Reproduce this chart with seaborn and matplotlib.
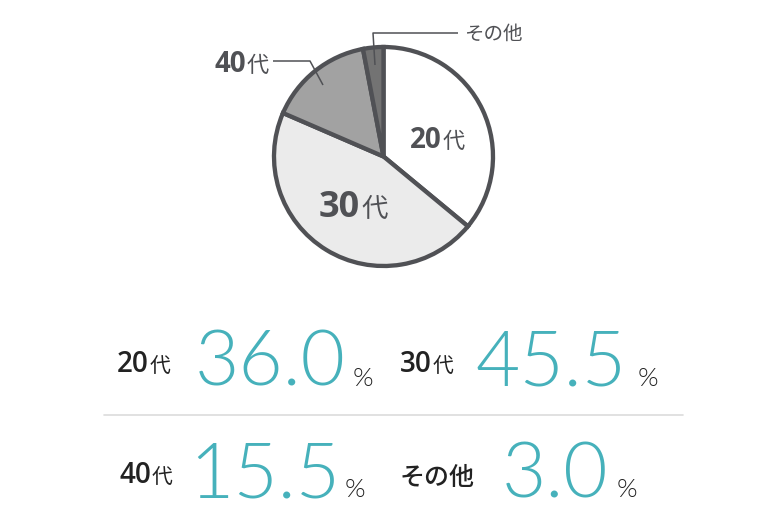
import matplotlib.pyplot as plt
import seaborn as sns

# Age distribution (percent)
ages = ["20代", "30代", "40代", "その他"]
shares = [36.0, 45.5, 15.5, 3.0]
wedge_colors = ["#ffffff", "#ebebeb", "#a2a2a2", "#737373"]

outline = "#505155"
teal = "#46b1bb"
dark = "#222222"

sns.set_theme(style="white")
plt.rcParams['font.family'] = ['Open Sans', 'Noto Sans CJK JP', 'DejaVu Sans']

W, H = 760, 532
fig = plt.figure(figsize=(W / 100, H / 100), dpi=100)

# pie, placed in pixel coordinates
cx, cy, r = 383.5, 156.5, 109.5
ax_pie = fig.add_axes([(cx - r) / W, (H - cy - r) / H, 2 * r / W, 2 * r / H])
wedges, _ = ax_pie.pie(shares, colors=wedge_colors, startangle=90, counterclock=False,
                       wedgeprops=dict(edgecolor=outline, linewidth=3.1, joinstyle='miter'))
for w in wedges:
    w.set_clip_on(False)
ax_pie.set_xlim(-1, 1)
ax_pie.set_ylim(-1, 1)
ax_pie.axis('off')

# overlay for text, in pixels (y down)
ax = fig.add_axes([0, 0, 1, 1])
ax.set_xlim(0, W)
ax.set_ylim(H, 0)
ax.axis('off')


def age_label(x, y, text, num_size, kanji_size, color, weight='bold'):
    """Draw '20代'-like label: digits end at x, kanji starts at x."""
    if text.endswith("代"):
        ax.text(x, y, text[:-1], ha='right', va='baseline', fontsize=num_size,
                color=color, fontweight=weight, family=['Open Sans', 'DejaVu Sans'])
        ax.text(x + 1, y, "代", ha='left', va='baseline', fontsize=kanji_size,
                color=color, family=['Noto Sans CJK JP'])
    else:
        ax.text(x, y, text, ha='left', va='baseline', fontsize=kanji_size,
                color=color, fontweight='medium', family=['Noto Sans CJK JP'])


# labels on the pie
age_label(442, 148, ages[0], 20, 16, outline)
age_label(360, 217, ages[1], 26, 19, outline)
age_label(246, 72, ages[2], 20, 16, outline)
ax.text(464, 40, ages[3], ha='left', va='baseline', fontsize=14, color=outline,
        family=['Noto Sans CJK JP'])
ax.plot([273, 310, 323], [61, 61, 85], color=outline, lw=1.1, solid_capstyle='butt')
ax.plot([458, 373, 375], [33, 33, 65], color=outline, lw=1.1, solid_capstyle='butt')

# figures below
label_x = [149, 432, 151, 400]
num_cx = [270, 551, 265, 555]
pct_x = [353, 638, 345, 617]
row_y = [386, 386, 497, 497]
for i, (age, v) in enumerate(zip(ages, shares)):
    y = row_y[i]
    if age.endswith("代"):
        age_label(label_x[i], y - 14, age, 20, 15, dark, weight='semibold')
    else:
        ax.text(label_x[i], y - 12, age, ha='left', va='baseline', fontsize=18,
                color=dark, fontweight='medium', family=['Noto Sans CJK JP'])
    ax.text(num_cx[i], y, f"{v:.1f}", ha='center', va='baseline', fontsize=55,
            color=teal, fontweight=300, family=['Lato', 'DejaVu Sans'])
    ax.text(pct_x[i], y, "%", ha='left', va='baseline', fontsize=19,
            color=dark, fontweight=300, family=['Lato', 'DejaVu Sans'])

ax.plot([104, 683], [415, 415], color="#dcdcdc", lw=1.2)

fig.savefig("out.png", dpi=100, facecolor="white")
